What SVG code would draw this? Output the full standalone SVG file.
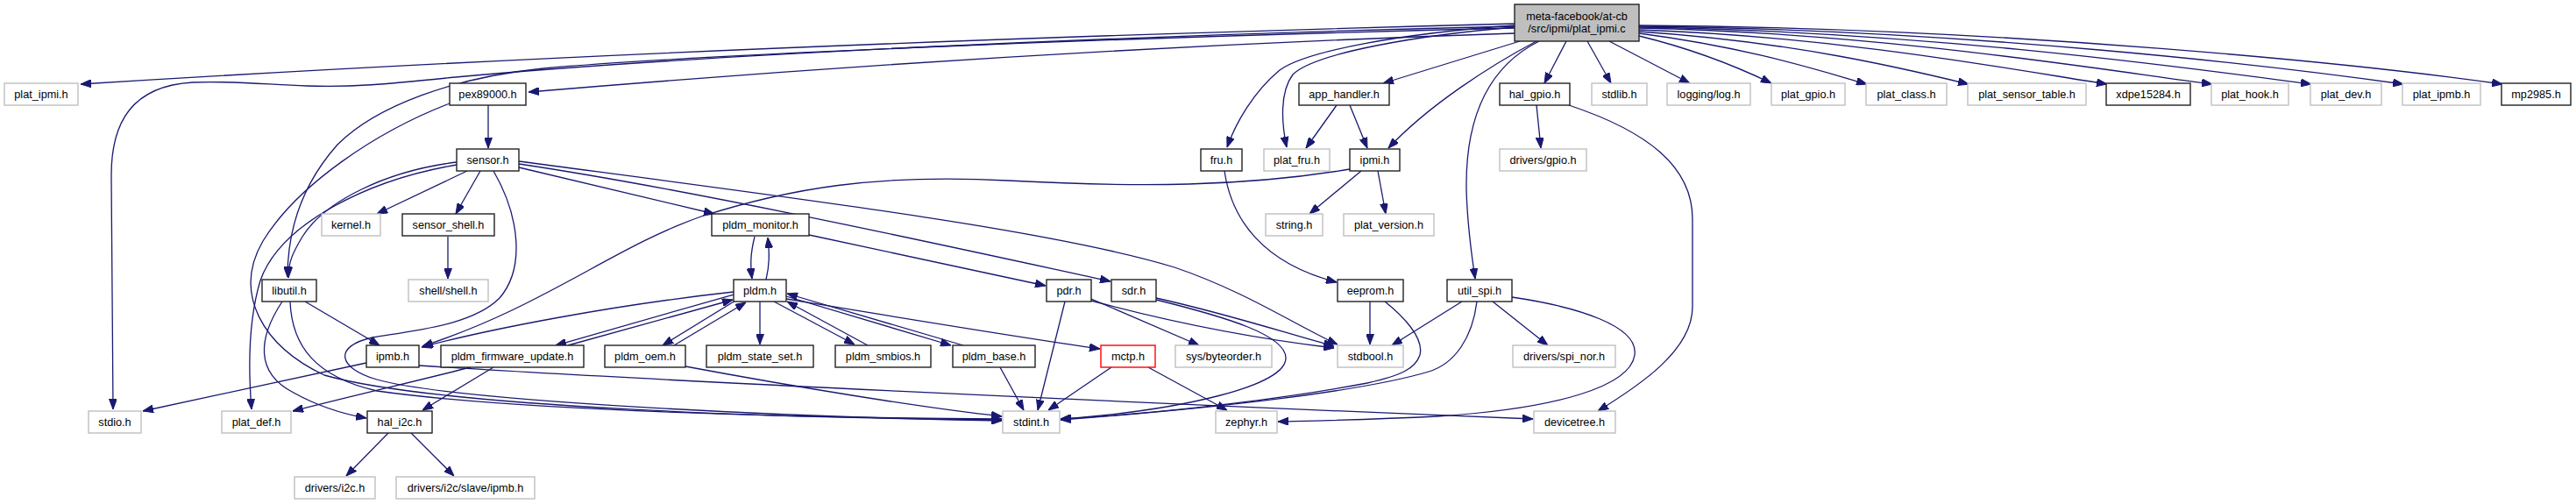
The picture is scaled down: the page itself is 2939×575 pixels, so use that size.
<svg xmlns="http://www.w3.org/2000/svg" width="2939" height="575" viewBox="0 0 2939 575">
<defs>
<style>
.n rect{fill:#fff;stroke:#222;stroke-width:1.4}
.g rect{fill:#fff;stroke:#bfbfbf;stroke-width:1.4}
.r rect{fill:#fff;stroke:#ff0000;stroke-width:1.4}
.m rect{fill:#bfbfbf;stroke:#222;stroke-width:1.4}
text{font-family:"Liberation Sans",Arial,Helvetica,sans-serif;font-size:12.7px;text-anchor:middle;fill:#000}
#edges path{fill:none;stroke:#191970;stroke-width:1.3;marker-end:url(#a)}
</style>
<marker id="a" markerWidth="12" markerHeight="9" refX="12" refY="4.5" orient="auto" markerUnits="userSpaceOnUse"><path d="M0,0L12,4.5L0,9z" fill="#191970" stroke="#191970" stroke-width="1"/></marker>
</defs>
<rect width="2939" height="575" fill="#fff"/>
<g id="edges">
<path d="M1728,27 C1300,38 700,58 92,96"/>
<path d="M1728,30 C1300,40 800,62 520,88 C440,96 400,100 350,98 C300,96 260,92 220,94 C150,98 127,140 127,200 L129,467"/>
<path d="M1728,32 C1300,42 800,62 620,78 C520,88 430,120 385,165 C345,210 328,260 328,316"/>
<path d="M1728,38 C1300,52 900,80 603,105"/>
<path d="M1728,31 C1620,40 1500,60 1475,85 C1460,105 1462,140 1468,168"/>
<path d="M1728,29 C1600,38 1490,58 1460,80 C1430,105 1410,140 1400,168"/>
<path d="M1734,47 L1578,95"/>
<path d="M1753,47 C1700,75 1630,120 1584,169"/>
<path d="M1756,47 C1700,75 1672,130 1673,215 C1674,260 1679,290 1683,318"/>
<path d="M1787,47 L1762,95"/>
<path d="M1811,47 L1838,95"/>
<path d="M1836,47 L1928,95"/>
<path d="M1870,41 C1940,58 1990,80 2021,95"/>
<path d="M1870,38 C2000,55 2080,82 2130,96"/>
<path d="M1870,36 C2050,48 2180,80 2246,96"/>
<path d="M1870,34 C2100,42 2300,80 2404,96"/>
<path d="M1870,32 C2150,38 2400,80 2524,96"/>
<path d="M1870,31 C2200,36 2500,78 2637,96"/>
<path d="M1870,30 C2250,34 2600,76 2742,96"/>
<path d="M1870,29 C2300,32 2700,74 2855,96"/>
<path d="M1525,120 L1490,169"/>
<path d="M1540,120 L1560,169"/>
<path d="M1553,195 L1494,244"/>
<path d="M1572,195 L1581,244"/>
<path d="M1540,193 C1420,213 1300,214 1150,206 C1000,198 900,215 800,247 C700,282 620,350 482,395"/>
<path d="M348,344 L433,394"/>
<path d="M322,344 C295,385 290,425 335,448 C360,462 390,472 418,477"/>
<path d="M331,344 C333,395 360,430 430,446 C600,470 950,477 1143,478"/>
<path d="M521,185 C440,195 370,230 345,270 C333,290 329,300 329,317"/>
<path d="M521,188 C420,205 320,255 297,320 C282,370 284,430 287,467"/>
<path d="M533,195 L430,244"/>
<path d="M548,195 L520,244"/>
<path d="M511,270 L511,318"/>
<path d="M557,120 L557,169"/>
<path d="M513,118 C430,150 340,210 300,275 C265,335 300,395 370,428 C500,465 900,477 1143,479"/>
<path d="M563,195 C592,245 600,305 570,340 C540,370 480,376 425,385 C380,395 385,420 430,433 C520,458 900,476 1143,480"/>
<path d="M592,191 L815,244"/>
<path d="M592,187 C800,218 1100,285 1267,321"/>
<path d="M592,184 C900,225 1200,262 1340,305 C1420,332 1480,372 1526,393"/>
<path d="M861,270 C856,290 856,302 858,318"/>
<path d="M874,319 C878,302 878,290 876,271"/>
<path d="M923,268 L1193,326"/>
<path d="M837,336 L634,394"/>
<path d="M648,394 L836,342"/>
<path d="M839,343 L756,394"/>
<path d="M769,394 L851,345"/>
<path d="M867,344 L867,393"/>
<path d="M883,344 L975,393"/>
<path d="M990,394 L898,344"/>
<path d="M897,338 L1085,394"/>
<path d="M1099,394 L898,335"/>
<path d="M897,341 C1000,358 1150,383 1255,398"/>
<path d="M837,333 C700,348 560,375 481,396"/>
<path d="M563,419 L482,468"/>
<path d="M537,419 C470,436 400,452 334,469"/>
<path d="M782,418 C900,440 1050,465 1143,475"/>
<path d="M418,414 L163,469"/>
<path d="M478,417 C700,432 1300,460 1749,478"/>
<path d="M443,494 L395,543"/>
<path d="M469,494 L518,543"/>
<path d="M1141,419 L1168,468"/>
<path d="M1215,344 L1184,468"/>
<path d="M1268,419 L1196,468"/>
<path d="M1310,419 L1400,468"/>
<path d="M1245,341 L1368,394"/>
<path d="M1245,343 C1330,366 1430,386 1522,397"/>
<path d="M1319,340 C1400,358 1460,378 1522,395"/>
<path d="M1319,342 C1400,362 1466,382 1467,408 C1468,440 1350,468 1210,478"/>
<path d="M1563,344 L1563,393"/>
<path d="M1580,344 C1600,360 1625,385 1620,405 C1615,420 1600,428 1560,437 C1480,452 1350,470 1210,478"/>
<path d="M1668,344 L1588,394"/>
<path d="M1685,344 C1680,385 1660,415 1630,424 C1560,445 1400,465 1210,479"/>
<path d="M1703,344 L1766,394"/>
<path d="M1725,339 C1800,350 1870,372 1865,405 C1860,440 1780,466 1640,475 C1560,479 1500,480 1458,481"/>
<path d="M1753,120 L1758,169"/>
<path d="M1790,120 C1880,150 1931,190 1931,250 L1931,350 C1931,400 1870,440 1823,469"/>
<path d="M1397,195 C1405,250 1440,300 1525,322"/>
</g>
<g id="n_main" class="m"><rect x="1728" y="5" width="142" height="42"/><text x="1799" y="22.5">meta-facebook/at-cb</text><text x="1799" y="37">/src/ipmi/plat_ipmi.c</text></g>
<g id="n_plat_ipmi" class="g"><rect x="5" y="95" width="84" height="25"/><text x="47" y="112">plat_ipmi.h</text></g>
<g id="n_pex89000" class="n"><rect x="513" y="95" width="87" height="25"/><text x="556.5" y="112">pex89000.h</text></g>
<g id="n_app_handler" class="n"><rect x="1482" y="95" width="103" height="25"/><text x="1533.5" y="112">app_handler.h</text></g>
<g id="n_hal_gpio" class="n"><rect x="1711" y="95" width="80" height="25"/><text x="1751" y="112">hal_gpio.h</text></g>
<g id="n_stdlib" class="g"><rect x="1816" y="95" width="63" height="25"/><text x="1847.5" y="112">stdlib.h</text></g>
<g id="n_log" class="g"><rect x="1902" y="95" width="95" height="25"/><text x="1949.5" y="112">logging/log.h</text></g>
<g id="n_plat_gpio" class="g"><rect x="2021" y="95" width="84" height="25"/><text x="2063" y="112">plat_gpio.h</text></g>
<g id="n_plat_class" class="g"><rect x="2129" y="95" width="92" height="25"/><text x="2175" y="112">plat_class.h</text></g>
<g id="n_plat_sensor_table" class="g"><rect x="2245" y="95" width="135" height="25"/><text x="2312.5" y="112">plat_sensor_table.h</text></g>
<g id="n_xdpe15284" class="n"><rect x="2403" y="95" width="96" height="25"/><text x="2451" y="112">xdpe15284.h</text></g>
<g id="n_plat_hook" class="g"><rect x="2523" y="95" width="88" height="25"/><text x="2567" y="112">plat_hook.h</text></g>
<g id="n_plat_dev" class="g"><rect x="2636" y="95" width="81" height="25"/><text x="2676.5" y="112">plat_dev.h</text></g>
<g id="n_plat_ipmb" class="g"><rect x="2741" y="95" width="89" height="25"/><text x="2785.5" y="112">plat_ipmb.h</text></g>
<g id="n_mp2985" class="n"><rect x="2854" y="95" width="79" height="25"/><text x="2893.5" y="112">mp2985.h</text></g>
<g id="n_sensor" class="n"><rect x="521" y="170" width="71" height="25"/><text x="556.5" y="187">sensor.h</text></g>
<g id="n_fru" class="n"><rect x="1370" y="170" width="47" height="25"/><text x="1393.5" y="187">fru.h</text></g>
<g id="n_plat_fru" class="g"><rect x="1442" y="170" width="75" height="25"/><text x="1479.5" y="187">plat_fru.h</text></g>
<g id="n_ipmi" class="n"><rect x="1540" y="170" width="57" height="25"/><text x="1568.5" y="187">ipmi.h</text></g>
<g id="n_drivers_gpio" class="g"><rect x="1711" y="170" width="99" height="25"/><text x="1760.5" y="187">drivers/gpio.h</text></g>
<g id="n_kernel" class="g"><rect x="367" y="244" width="67" height="25"/><text x="400.5" y="261">kernel.h</text></g>
<g id="n_sensor_shell" class="n"><rect x="459" y="244" width="105" height="25"/><text x="511.5" y="261">sensor_shell.h</text></g>
<g id="n_pldm_monitor" class="n"><rect x="812" y="244" width="111" height="25"/><text x="867.5" y="261">pldm_monitor.h</text></g>
<g id="n_string" class="g"><rect x="1444" y="244" width="65" height="25"/><text x="1476.5" y="261">string.h</text></g>
<g id="n_plat_version" class="g"><rect x="1533" y="244" width="103" height="25"/><text x="1584.5" y="261">plat_version.h</text></g>
<g id="n_libutil" class="n"><rect x="299" y="319" width="62" height="25"/><text x="330" y="336">libutil.h</text></g>
<g id="n_shell" class="g"><rect x="466" y="319" width="91" height="25"/><text x="511.5" y="336">shell/shell.h</text></g>
<g id="n_pldm" class="n"><rect x="837" y="319" width="60" height="25"/><text x="867" y="336">pldm.h</text></g>
<g id="n_pdr" class="n"><rect x="1194" y="319" width="51" height="25"/><text x="1219.5" y="336">pdr.h</text></g>
<g id="n_sdr" class="n"><rect x="1268" y="319" width="51" height="25"/><text x="1293.5" y="336">sdr.h</text></g>
<g id="n_eeprom" class="n"><rect x="1526" y="319" width="75" height="25"/><text x="1563.5" y="336">eeprom.h</text></g>
<g id="n_util_spi" class="n"><rect x="1651" y="319" width="74" height="25"/><text x="1688" y="336">util_spi.h</text></g>
<g id="n_ipmb" class="n"><rect x="418" y="394" width="60" height="25"/><text x="448" y="411">ipmb.h</text></g>
<g id="n_pldm_fw" class="n"><rect x="503" y="394" width="163" height="25"/><text x="584.5" y="411">pldm_firmware_update.h</text></g>
<g id="n_pldm_oem" class="n"><rect x="690" y="394" width="92" height="25"/><text x="736" y="411">pldm_oem.h</text></g>
<g id="n_pldm_state_set" class="n"><rect x="806" y="394" width="122" height="25"/><text x="867" y="411">pldm_state_set.h</text></g>
<g id="n_pldm_smbios" class="n"><rect x="953" y="394" width="109" height="25"/><text x="1007.5" y="411">pldm_smbios.h</text></g>
<g id="n_pldm_base" class="n"><rect x="1087" y="394" width="94" height="25"/><text x="1134" y="411">pldm_base.h</text></g>
<g id="n_mctp" class="r"><rect x="1256" y="394" width="62" height="25"/><text x="1287" y="411">mctp.h</text></g>
<g id="n_byteorder" class="g"><rect x="1341" y="394" width="110" height="25"/><text x="1396" y="411">sys/byteorder.h</text></g>
<g id="n_stdbool" class="g"><rect x="1526" y="394" width="75" height="25"/><text x="1563.5" y="411">stdbool.h</text></g>
<g id="n_spi_nor" class="g"><rect x="1726" y="394" width="117" height="25"/><text x="1784.5" y="411">drivers/spi_nor.h</text></g>
<g id="n_stdio" class="g"><rect x="101" y="469" width="60" height="25"/><text x="131" y="486">stdio.h</text></g>
<g id="n_plat_def" class="g"><rect x="253" y="469" width="79" height="25"/><text x="292.5" y="486">plat_def.h</text></g>
<g id="n_hal_i2c" class="n"><rect x="419" y="469" width="74" height="25"/><text x="456" y="486">hal_i2c.h</text></g>
<g id="n_stdint" class="g"><rect x="1144" y="469" width="65" height="25"/><text x="1176.5" y="486">stdint.h</text></g>
<g id="n_zephyr" class="g"><rect x="1387" y="469" width="70" height="25"/><text x="1422" y="486">zephyr.h</text></g>
<g id="n_devicetree" class="g"><rect x="1750" y="469" width="93" height="25"/><text x="1796.5" y="486">devicetree.h</text></g>
<g id="n_drivers_i2c" class="g"><rect x="336" y="544" width="92" height="25"/><text x="382" y="561">drivers/i2c.h</text></g>
<g id="n_slave_ipmb" class="g"><rect x="452" y="544" width="158" height="25"/><text x="531" y="561">drivers/i2c/slave/ipmb.h</text></g>
</svg>
